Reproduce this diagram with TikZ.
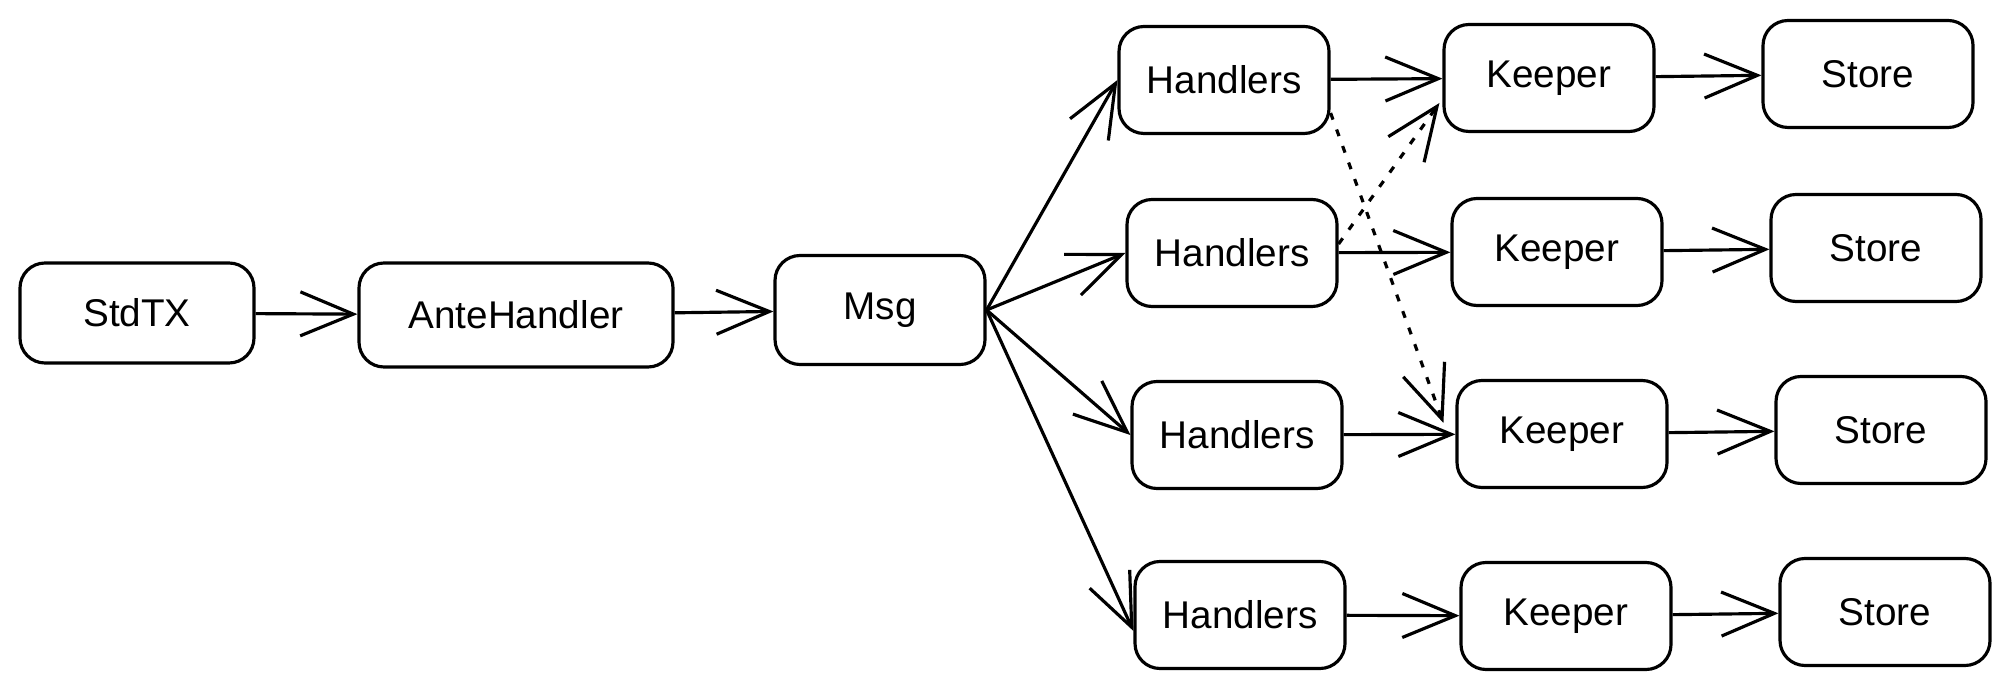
\documentclass[tikz,border=0pt]{standalone}
\usepackage{fontspec}
\setmainfont{Liberation Sans}
\usepackage{tikz}
\usetikzlibrary{arrows.meta,positioning}
\tikzset{
	box/.style={draw,rectangle,rounded corners=2.5mm,align=center,line width=0.9pt,minimum width=2.1cm,minimum height=1.07cm,font=\fontsize{11}{13}\selectfont},
	-v/.style={line width=0.9pt,-{Straight Barb[length=5.3mm,width=4.4mm]}},
	weak/.style={line width=0.9pt,dash pattern=on 2pt off 3pt,-{Straight Barb[length=5.3mm,width=4.4mm]}}
}
\begin{document}
\begin{tikzpicture}
			\useasboundingbox (0,0) rectangle (20.10,-6.91);
			\node[box,minimum width=2.34cm,minimum height=1cm] (std) at (1.37,-3.13) {StdTX};
			\node[box,minimum width=3.14cm,minimum height=1.04cm] (ante) at (5.16,-3.15) {AnteHandler};
			\node[box,minimum height=1.09cm] (msg) at (8.80,-3.10) {Msg};
			
			\node[box] (h1) at (12.24,-0.80) {Handlers};
			\node[box] (k1) at (15.49,-0.78) {Keeper};
			\node[box] (s1) at (18.68,-0.74) {Store};
			\node[box] (h2) at (12.32,-2.53) {Handlers};
			\node[box] (k2) at (15.57,-2.52) {Keeper};
			\node[box] (s2) at (18.76,-2.48) {Store};
			\node[box] (h3) at (12.37,-4.35) {Handlers};
			\node[box] (k3) at (15.62,-4.34) {Keeper};
			\node[box] (s3) at (18.81,-4.30) {Store};
			\node[box] (h4) at (12.40,-6.15) {Handlers};
			\node[box] (k4) at (15.66,-6.16) {Keeper};
			\node[box] (s4) at (18.85,-6.12) {Store};
			
			\draw[-v] (std) -- (ante);
			\draw[-v] (ante) -- (msg);
			\draw[-v] (msg.east) -- (h1.west);
			\draw[-v] (msg.east) -- (h2.west);
			\draw[-v] (msg.east) -- (h3.west);
			\draw[-v] (msg.east) -- ([yshift=-1.6mm]h4.west);
			
			\draw[-v] (h1) -- (k1);
			\draw[-v] (h2) -- (k2);
			\draw[-v] (h3) -- (k3);
			\draw[-v] (h4) -- (k4);
			\draw[-v] (k1) -- (s1);
			\draw[-v] (k2) -- (s2);
			\draw[-v] (k3) -- (s3);
			\draw[-v] (k4) -- (s4);
			
			\draw[weak] ([yshift=-3.3mm]h1.east) -- ([xshift=-1.2mm,yshift=1.1mm]k3.west);
			\draw[weak] ([yshift=0.9mm]h2.east) -- ([xshift=-0.3mm,yshift=-2.5mm]k1.west);
		\end{tikzpicture}
\end{document}
